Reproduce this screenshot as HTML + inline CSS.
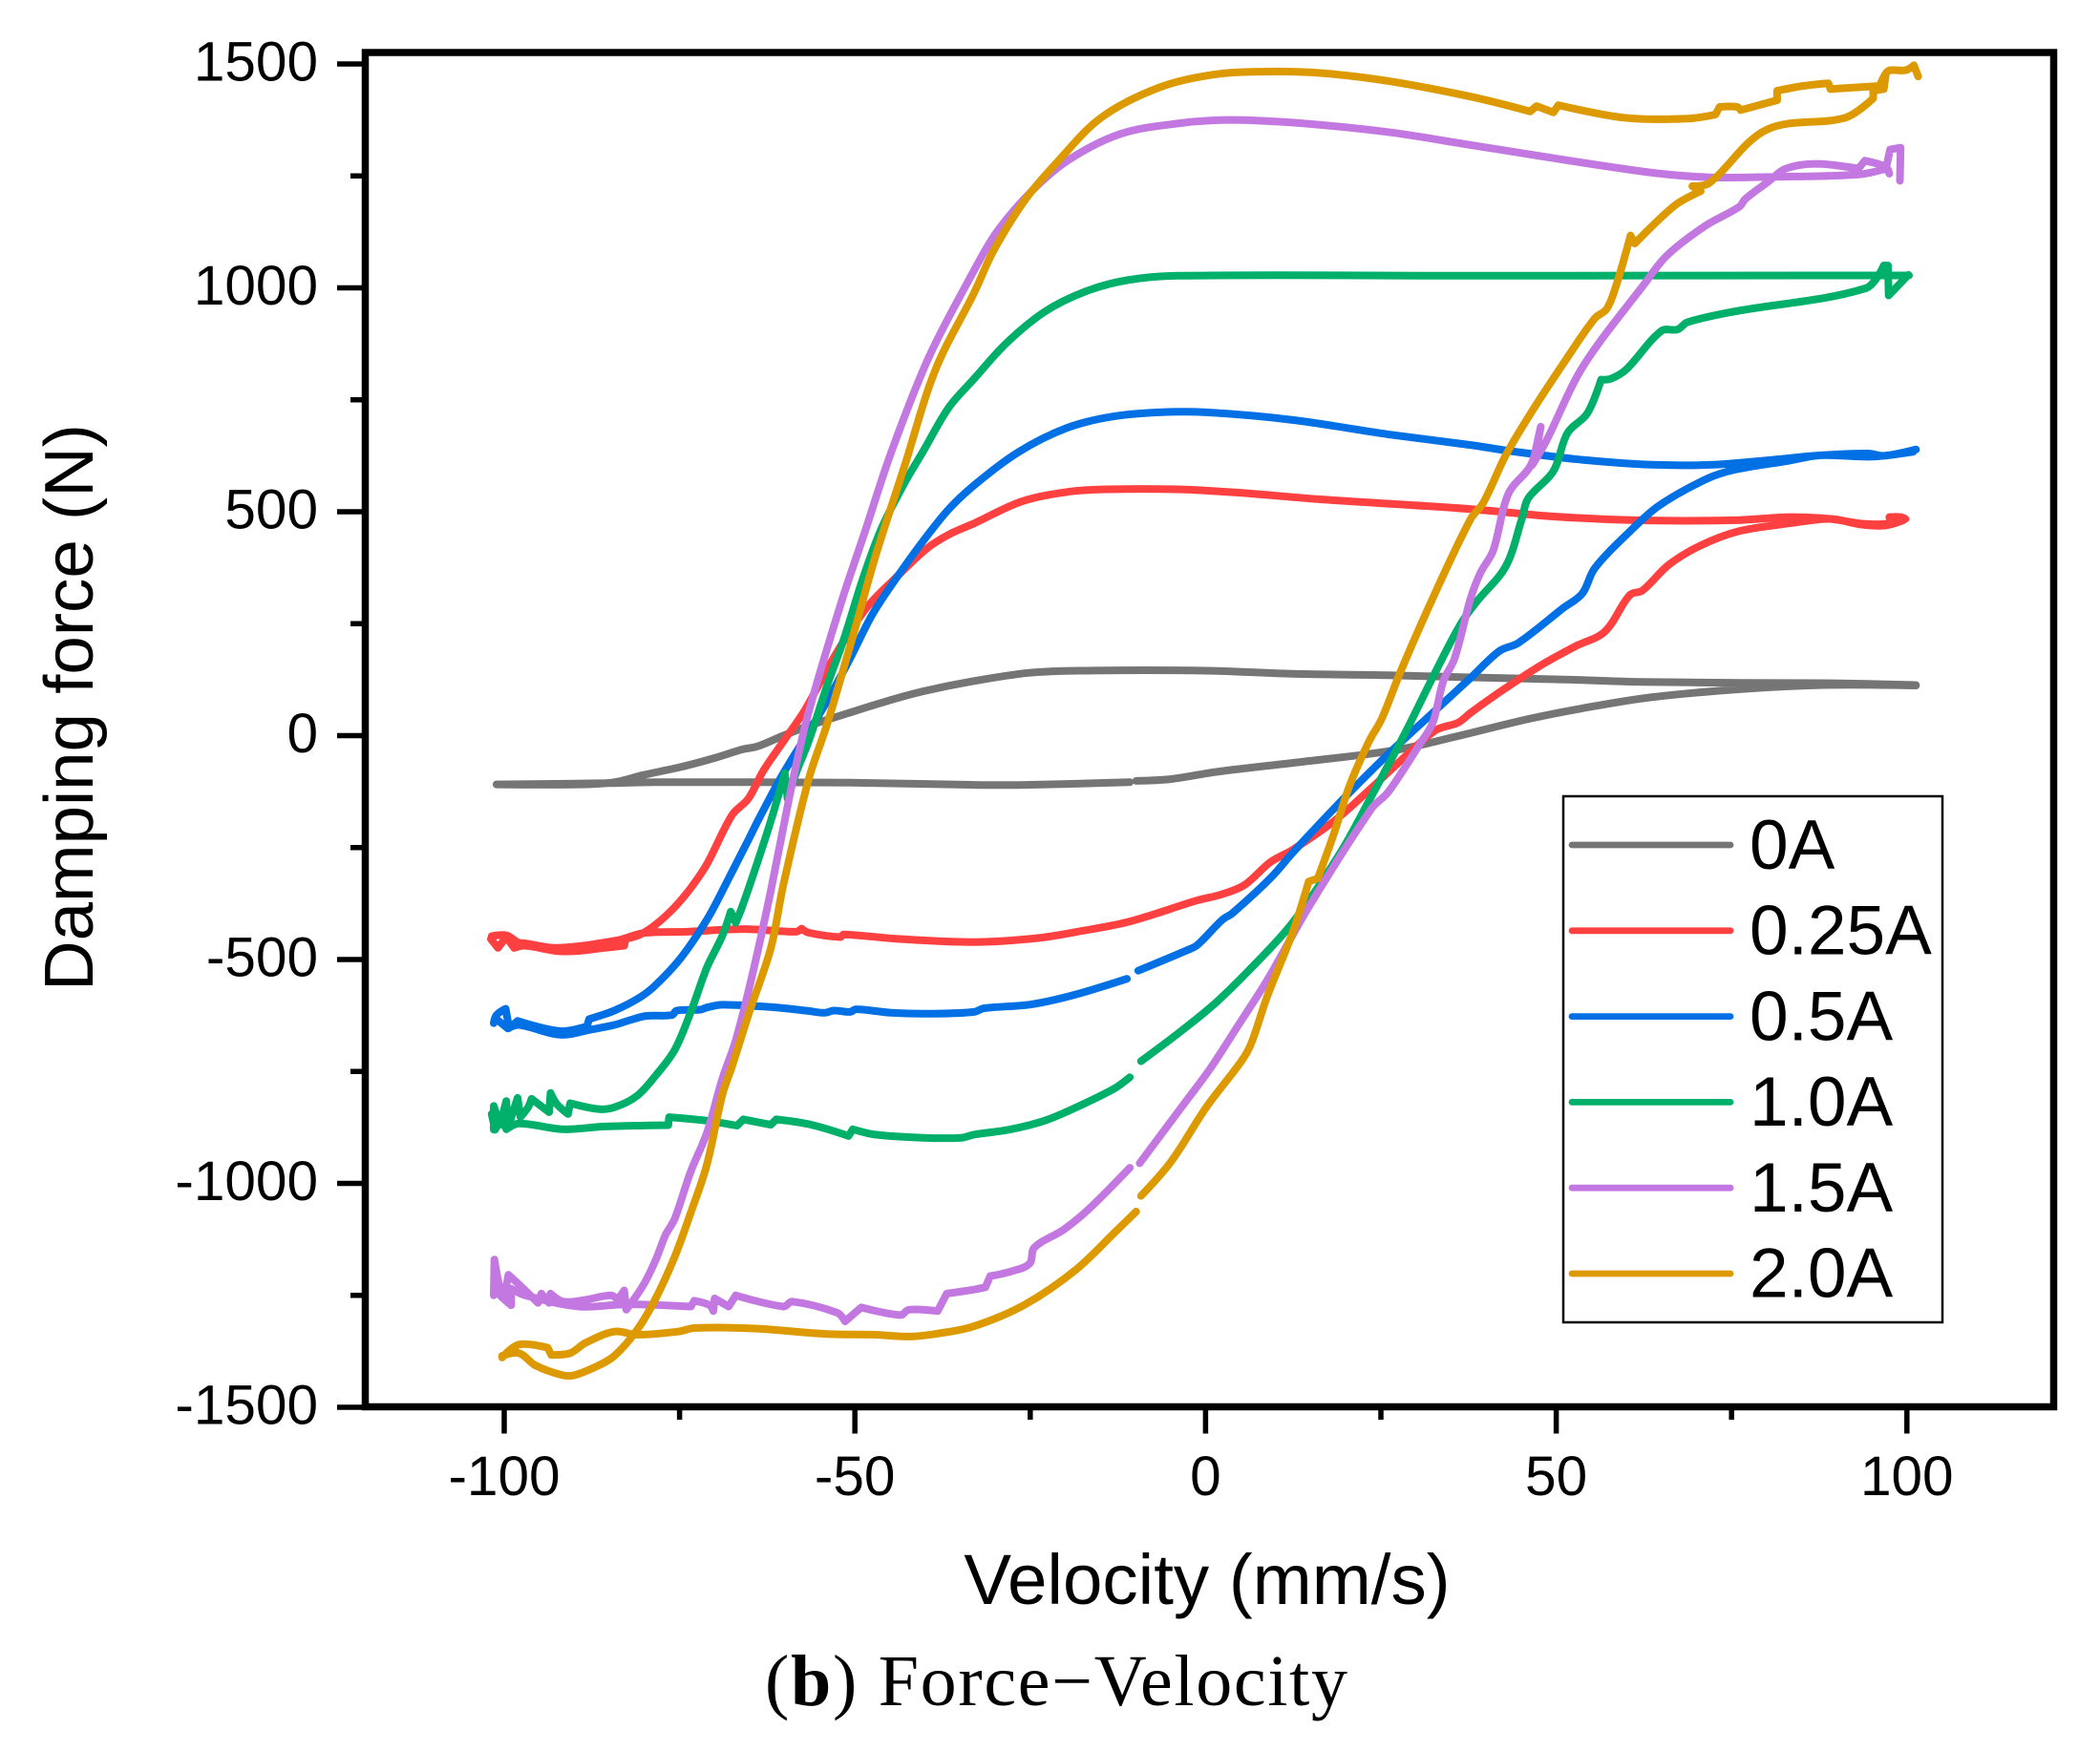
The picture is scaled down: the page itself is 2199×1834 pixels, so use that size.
<!DOCTYPE html>
<html lang="en">
<head>
<meta charset="utf-8">
<title>Force-Velocity</title>
<style>
html,body{margin:0;padding:0;background:#fff;}
svg{display:block;}
text{font-family:"Liberation Sans",sans-serif;fill:#000;}
</style>
</head>
<body>
<svg id="chart" xmlns="http://www.w3.org/2000/svg" width="2199" height="1834" viewBox="0 0 2199 1834">
<rect x="0" y="0" width="2199" height="1834" fill="#fff"/>
<g id="series-layer"></g>
<g id="axis-layer"></g>
<rect x="382.5" y="55" width="1768" height="1418.5" fill="none" stroke="#000" stroke-width="7.5"/>
<text x="1264" y="1680" font-size="74.5" text-anchor="middle">Velocity (mm/s)</text>
<text transform="translate(97 741) rotate(-90)" font-size="72.7" text-anchor="middle">Damping force (N)</text>
<text x="801" y="1786" font-size="76" textLength="610" lengthAdjust="spacing" style="font-family:'Liberation Serif',serif">(<tspan font-weight="bold">b</tspan>) Force−Velocity</text>
<g>
<rect x="1637" y="834" width="397" height="551" fill="#fff" stroke="#000" stroke-width="2.5"/>
<g id="legend-layer"></g>
</g>
</svg>
<script>
const xMajorTicks = [-100, -50, 0, 50, 100];
const xMinorTicks = [-75, -25, 25, 75];
const yMajorTicks = [-1500, -1000, -500, 0, 500, 1000, 1500];
const yMinorTicks = [-1250, -750, -250, 250, 750, 1250];
const seriesLabels = ["0A", "0.25A", "0.5A", "1.0A", "1.5A", "2.0A"];

const velocity0A = [-101.1,-89.3,-84.3,-80.2,-74.8,-69.8,-66.1,-63.9,-60.2,-56.6,-53,-45.7,-40.3,-33,-25.3,-18,0.1,12.4,26,37.8,51.9,62.3,76.4,89.5,101.3,null,
-101.1,-84.3,-78.4,-50.7,-33,-25.8,-10.8,null,
-9.9,-4.9,1.5,12.4,22.8,28.3,32.8,37.8,46,53.7,63.2,76.4,88.2,101.3];
const force0A = [-109,-109,-104,-88,-70,-49,-31,-24,0,22,40,76,99,122,140,145,145,138,135,130,125,120,118,117,113,null,
-109,-106,-104,-105,-110,-110,-104,null,
-101,-97,-81,-61,-42,-29,-13,6,37,61,85,104,113,112];

const velocity025A = [-101.9,-100.9,-99.7,-98.6,-97,-92.5,-89.7,-85.7,-82.9,-82.7,-80.7,-78.4,-75.7,-73.4,-71.1,-67.5,-65.2,-63,-60.2,-57.1,-53.9,-51.2,-48,-44.4,-39.8,-36.6,-33,-26.2,-19.4,-13.9,-4,4.2,16.9,37.8,49.1,61.4,75.5,83.2,89.1,93.2,95.9,97.7,97.5,99.1,99.8,null,
-101.8,-99.7,-98,-97,-92.5,-83.8,-80.2,-73.9,-65.7,-58.4,-57.6,-56.6,-52.1,-51.6,-43.9,-33,-23.9,-17.6,-10.8,-1.2,2.4,5.6,9.2,12.4,18.3,23.7,28.3,32.8,36,37.8,42.3,47.8,52.8,56.9,60.5,62.3,66,70.5,75.9,83.2,89.1,93.2,96.8,99.5];
const force025A = [-454,-474,-450,-474,-469,-481,-481,-474,-469,-454,-445,-422,-383,-340,-287,-177,-141,-77,-13,58,150,221,292,349,417,449,474,523,545,550,550,543,527,506,490,481,481,488,484,474,472,474,488,488,484,null,
-448,-446,-462,-464,-474,-457,-441,-438,-432,-438,-431,-440,-450,-444,-454,-461,-452,-436,-415,-368,-354,-333,-283,-255,-191,-116,-49,12,29,51,101,157,200,232,314,324,381,424,456,474,484,472,469,481];

const velocity05A = [-101.5,-101.1,-99.8,-99.3,-98.1,-92,-88.2,-87.9,-84.3,-80.7,-78.4,-74.8,-71.1,-68.9,-65.2,-63.4,-60.2,-56.6,-53.9,-50.7,-47.5,-43.9,-40.3,-36.6,-33,-26.6,-19.8,-13.5,-6.7,0.1,12.4,26,37.8,43.7,53.7,63.7,72.3,80.9,87.7,94.5,96.8,101.3,null,
-101.3,-99.5,-97.9,-92,-87.5,-84.3,-82,-79.8,-76.1,-75.4,-72,-71.1,-68.9,-61.2,-56.6,-54.3,-53,-50.7,-49.8,-44.8,-38.9,-33,-31.6,-24.8,-18.5,-11.2,null,
-9.6,-2.6,-1.2,2.4,3.8,9.2,12.8,20.1,26,31.9,37.8,41.9,44.6,51,53.7,55.5,60.5,64.6,71.4,75.5,83.2,87.7,95,100.9];
const force05A = [-642,-624,-610,-653,-637,-660,-649,-633,-614,-585,-557,-496,-411,-347,-233,-177,-84,8,79,172,271,356,434,506,559,634,687,712,722,722,705,673,649,635,616,605,605,616,626,630,625,639,null,
-631,-654,-646,-668,-656,-646,-635,-626,-624,-614,-612,-607,-601,-607,-615,-619,-614,-617,-611,-619,-621,-617,-609,-600,-578,-543,null,
-525,-479,-468,-411,-397,-319,-255,-134,-42,44,129,189,207,285,317,374,456,513,573,594,614,626,623,634];

const velocity10A = [-101.5,-101.5,-100.6,-99.7,-99.5,-98.1,-97.7,-96.6,-96.1,-93.6,-93.4,-92.5,-90.9,-90.6,-86.6,-84.3,-81.1,-78.4,-75.7,-73.4,-71.1,-68.9,-67.7,-67,-66.1,-63.9,-62,-60,-59.6,-58.4,-56.6,-53.9,-51.6,-48.9,-46.2,-43,-40.3,-36.6,-33,-28.5,-23,-17.1,-11.2,-4,37.8,100.3,null,
-101.8,-101.3,-100.4,-99.7,-97.9,-91.6,-85.7,-76.6,-76.5,-71.1,-66.8,-65.9,-62,-61.2,-56.2,-50.9,-50.3,-47.1,-40.3,-34.8,-33,-28,-22.8,-18,-13,-10.8,null,
-9.2,-3.5,1.5,7,12.4,19.2,23.7,28.3,32.8,36.4,38.7,42.8,45.1,46,49.6,51.6,54.4,56.4,57.8,60,65,67.3,68.7,75,94.1,96.7,97.3,97.4,100.2];
const force10A = [-880,-827,-869,-816,-877,-809,-852,-830,-811,-841,-798,-823,-845,-821,-834,-830,-805,-759,-702,-617,-518,-447,-393,-418,-383,-283,-191,-84,-141,-84,-13,115,214,349,463,562,634,733,797,875,946,992,1017,1027,1027,1028,null,
-845,-880,-852,-879,-866,-879,-873,-870,-852,-860,-871,-857,-869,-857,-869,-894,-879,-891,-898,-898,-891,-880,-859,-827,-788,-763,null,
-727,-660,-596,-511,-418,-262,-134,1,143,250,300,378,484,530,591,676,719,795,797,818,904,907,923,946,999,1050,1050,983,1029];

const velocity15A = [-101.5,-101.4,-100.6,-100,-99.4,-97,-95.2,-94.7,-93.6,-93.4,-91.6,-88.4,-84.8,-83.8,-82.9,-82.6,-80.2,-78.4,-77,-75.7,-73.4,-71.1,-68.9,-67,-64.8,-62,-59.3,-57.1,-54.8,-51.6,-48.7,-44.8,-39.4,-33,-29.8,-24.8,-19.4,-12.1,-4,3.3,12.4,26,37.8,62.7,71.8,80.9,93.1,97,97.6,99.1,99,null,
-101.5,-100.4,-99,-99,-97,-89.3,-82.5,-73.4,-72.9,-70.7,-70.2,-70,-68,-67,-60.2,-58.9,-52.5,-51.4,-49.1,-43.5,-42.3,-38.2,-36.9,-33,-31.4,-30.7,-27.6,-25.1,-24.4,-20.3,-16.7,-10.8,null,
-9.4,-3.1,0.6,4.7,8.8,14.7,23.7,26,30.5,32.4,33.9,35.5,37.8,39.2,41,43.2,46.4,47.8,46.6,48.7,52.8,56,62.3,65.7,71.2,76.1,77,80.3,82.7,87,93.1,94,97,97.5];
const force15A = [-1250,-1170,-1235,-1253,-1204,-1239,-1267,-1246,-1267,-1246,-1264,-1260,-1250,-1260,-1239,-1282,-1228,-1171,-1115,-1079,-973,-887,-766,-681,-546,-347,-134,22,150,314,449,634,847,1039,1124,1216,1287,1344,1367,1375,1369,1348,1319,1259,1247,1248,1253,1266,1309,1313,1239,null,
-1232,-1253,-1272,-1235,-1250,-1275,-1270,-1275,-1262,-1272,-1285,-1257,-1275,-1250,-1275,-1264,-1289,-1308,-1277,-1294,-1282,-1285,-1246,-1237,-1232,-1207,-1196,-1179,-1143,-1104,-1058,-965,null,
-955,-823,-745,-646,-546,-383,-162,-127,-20,29,122,172,307,364,413,541,605,690,605,662,797,875,1003,1071,1138,1181,1199,1238,1266,1277,1266,1284,1270,1255];

const velocity20A = [-100.3,-97.9,-95.6,-92,-90.2,-87,-84.3,-81.1,-78.4,-75.7,-73.4,-71.1,-68.9,-67.5,-65.2,-62,-60.2,-56.6,-53.9,-50.3,-47.1,-43,-38.5,-33,-30.3,-25.8,-21.2,-14.9,-6.7,1,8.8,16.9,26,37.8,46.3,47.2,49.6,50.3,59.7,68.8,72.7,73.3,75.8,76.3,81.5,81.5,85.2,88.8,89.1,96.1,97,97.6,99.8,101,101.6,null,
-100.3,-97.9,-93.8,-93.3,-90.6,-88.4,-84.3,-81.1,-75.2,-72.9,-64.3,-54.3,-47.1,-42.1,-38,-33,-25.8,-18.5,-12.6,-9.9,null,
-9.2,-4.9,0.1,5.1,6.5,8.8,12.4,14.7,16,18.3,20.5,23.3,25.1,27.8,32.8,37.8,39.6,42.8,46.9,51.4,55.5,57.2,58.5,60.6,61.2,66.9,70.6,69.4,71.8,80,91.2,95.2,95.2,96.7,97];
const force20A = [-1385,-1379,-1406,-1427,-1429,-1410,-1385,-1328,-1257,-1164,-1065,-958,-802,-738,-624,-475,-333,-98,29,221,399,598,818,989,1081,1195,1280,1380,1447,1476,1483,1479,1462,1427,1394,1406,1392,1408,1380,1378,1387,1404,1404,1397,1419,1440,1451,1457,1444,1451,1479,1486,1486,1497,1472,null,
-1389,-1360,-1367,-1383,-1379,-1356,-1331,-1338,-1331,-1323,-1324,-1336,-1338,-1342,-1335,-1319,-1271,-1193,-1104,-1063,null,
-1028,-951,-830,-727,-688,-582,-440,-326,-319,-219,-113,-13,37,143,321,484,520,626,733,840,932,953,1003,1117,1099,1184,1216,1227,1234,1353,1380,1423,1440,1444,1479];

const SVG_NS = "http://www.w3.org/2000/svg";
const seriesColors = ["#757575", "#FF4040", "#0070E4", "#00AF69", "#C278E0", "#DD9A00"];
const seriesVelocity = [velocity0A, velocity025A, velocity05A, velocity10A, velocity15A, velocity20A];
const seriesForce = [force0A, force025A, force05A, force10A, force15A, force20A];

function sx(v) { return 1262.4 + 7.344 * v; }
function sy(f) { return 770.5 - 0.469 * f; }

const seriesLayer = document.getElementById("series-layer");
const axisLayer = document.getElementById("axis-layer");
const legendLayer = document.getElementById("legend-layer");

function smoothRun(pts) {
  const n = pts.length;
  const tan = [];
  for (let i = 0; i < n; i++) {
    if (i === 0 || i === n - 1) { tan.push(null); continue; }
    const ax = pts[i][0] - pts[i - 1][0], ay = pts[i][1] - pts[i - 1][1];
    const bx = pts[i + 1][0] - pts[i][0], by = pts[i + 1][1] - pts[i][1];
    const la = Math.hypot(ax, ay) || 1, lb = Math.hypot(bx, by) || 1;
    const cos = (ax * bx + ay * by) / (la * lb);
    if (cos < 0.64) { tan.push(null); continue; }
    const tx = pts[i + 1][0] - pts[i - 1][0], ty = pts[i + 1][1] - pts[i - 1][1];
    const lt = Math.hypot(tx, ty) || 1;
    tan.push([tx / lt, ty / lt]);
  }
  let d = "M" + pts[0][0].toFixed(1) + " " + pts[0][1].toFixed(1);
  for (let i = 0; i < n - 1; i++) {
    const p = pts[i], q = pts[i + 1];
    const len = Math.hypot(q[0] - p[0], q[1] - p[1]) / 3;
    const c1 = tan[i] ? [p[0] + tan[i][0] * len, p[1] + tan[i][1] * len] : p;
    const c2 = tan[i + 1] ? [q[0] - tan[i + 1][0] * len, q[1] - tan[i + 1][1] * len] : q;
    d += "C" + c1[0].toFixed(1) + " " + c1[1].toFixed(1) + " " + c2[0].toFixed(1) + " " + c2[1].toFixed(1) + " " + q[0].toFixed(1) + " " + q[1].toFixed(1);
  }
  return d;
}

function pathFor(vs, fs) {
  let d = "";
  let run = [];
  for (let i = 0; i <= vs.length; i++) {
    if (i === vs.length || vs[i] === null || fs[i] === null) {
      if (run.length > 1) d += smoothRun(run);
      run = [];
    } else {
      run.push([sx(vs[i]), sy(fs[i])]);
    }
  }
  return d;
}

seriesLabels.forEach(function (label, i) {
  const p = document.createElementNS(SVG_NS, "path");
  p.setAttribute("d", pathFor(seriesVelocity[i], seriesForce[i]));
  p.setAttribute("fill", "none");
  p.setAttribute("stroke", seriesColors[i]);
  p.setAttribute("stroke-width", "8");
  p.setAttribute("stroke-linejoin", "round");
  p.setAttribute("stroke-linecap", "round");
  
  
  seriesLayer.appendChild(p);

  const rowY = 885 + 89.8 * i;
  const key = document.createElementNS(SVG_NS, "line");
  key.setAttribute("x1", 1646);
  key.setAttribute("x2", 1812);
  key.setAttribute("y1", rowY);
  key.setAttribute("y2", rowY);
  key.setAttribute("stroke", seriesColors[i]);
  key.setAttribute("stroke-width", "6.8");
  key.setAttribute("stroke-linecap", "round");
  
  
  legendLayer.appendChild(key);

  const t = document.createElementNS(SVG_NS, "text");
  t.setAttribute("x", 1832);
  t.setAttribute("y", 910 + 89.7 * i);
  t.setAttribute("font-size", "73");
  t.textContent = label;
  
  
  legendLayer.appendChild(t);
});

function tick(x1, y1, x2, y2) {
  const l = document.createElementNS(SVG_NS, "line");
  l.setAttribute("x1", x1);
  l.setAttribute("y1", y1);
  l.setAttribute("x2", x2);
  l.setAttribute("y2", y2);
  l.setAttribute("stroke", "#000");
  l.setAttribute("stroke-width", "5.5");
  
  
  axisLayer.appendChild(l);
}

xMajorTicks.forEach(function (v) {
  tick(sx(v), 1473, sx(v), 1501.5);
  const t = document.createElementNS(SVG_NS, "text");
  t.setAttribute("x", sx(v));
  t.setAttribute("y", 1566);
  t.setAttribute("font-size", "58.5");
  t.setAttribute("text-anchor", "middle");
  t.textContent = String(v);
  
  
  axisLayer.appendChild(t);
});
xMinorTicks.forEach(function (v) { tick(sx(v), 1473, sx(v), 1487); });

yMajorTicks.forEach(function (f) {
  tick(353, sy(f), 383, sy(f));
  const t = document.createElementNS(SVG_NS, "text");
  t.setAttribute("x", 333);
  t.setAttribute("y", sy(f) + 17.5);
  t.setAttribute("font-size", "58.5");
  t.setAttribute("text-anchor", "end");
  t.textContent = String(f);
  
  
  axisLayer.appendChild(t);
});
yMinorTicks.forEach(function (f) { tick(367, sy(f), 383, sy(f)); });
</script>
</body>
</html>
